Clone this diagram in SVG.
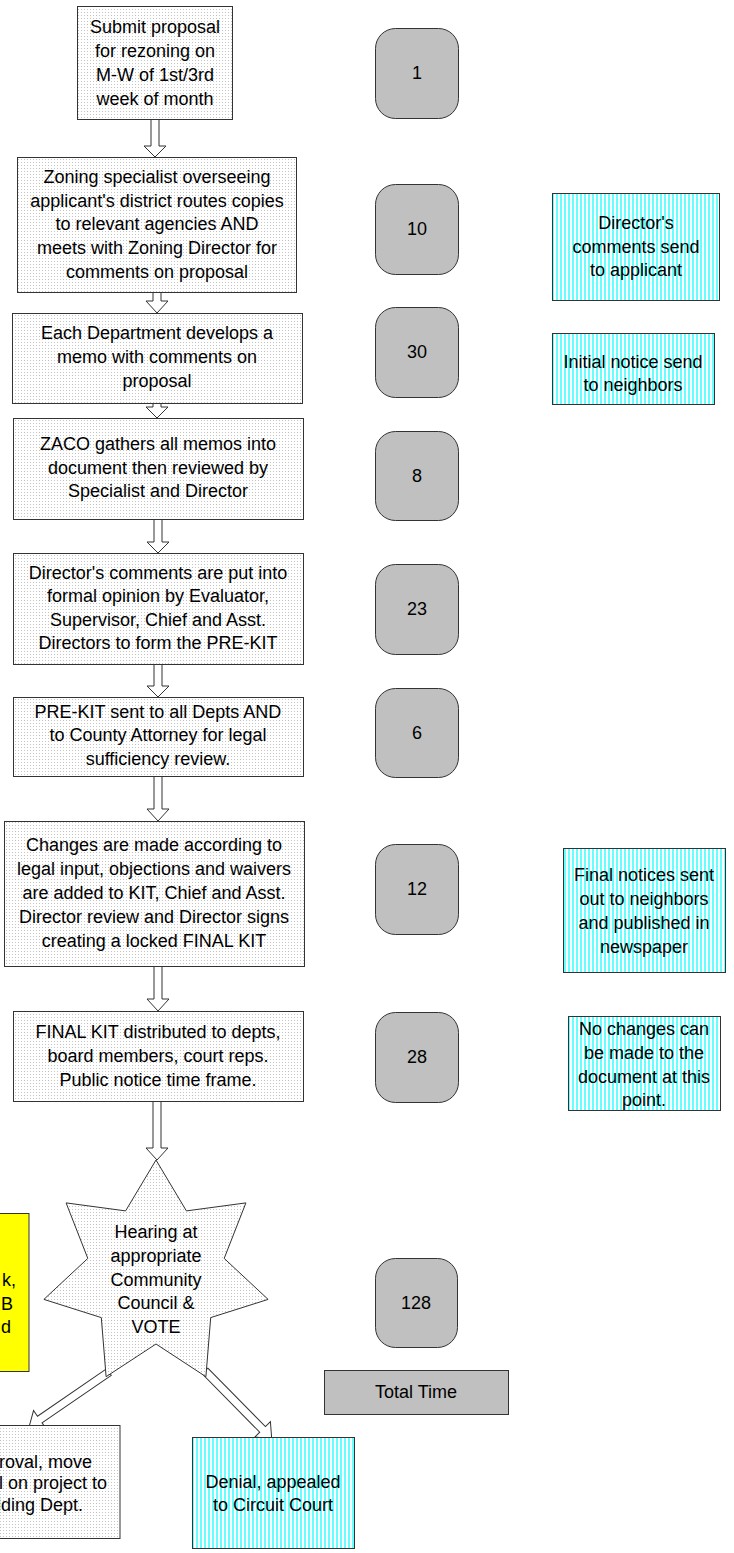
<svg xmlns="http://www.w3.org/2000/svg" width="734" height="1553" viewBox="0 0 734 1553">
<defs>
<pattern id="dots" width="3" height="3" patternUnits="userSpaceOnUse">
<rect width="3" height="3" fill="#ffffff"/>
<rect width="1" height="1" fill="#c4c4c4"/>
</pattern>
<pattern id="stripes" width="4" height="4" patternUnits="userSpaceOnUse">
<rect width="4" height="4" fill="#ffffff"/>
<rect width="2" height="4" fill="#66ffff"/>
</pattern>
</defs>
<style>
text{font-family:"Liberation Sans",Arial,sans-serif;font-size:18px;fill:#000;text-anchor:middle}
.box{fill:url(#dots);stroke:#333;stroke-width:1}
.cyan{fill:url(#stripes);stroke:#333;stroke-width:1}
.num{fill:#c0c0c0;stroke:#333;stroke-width:1}
.yel{fill:#ffff00;stroke:#333;stroke-width:1}
.arr{fill:#ffffff;stroke:#333;stroke-width:1;stroke-linejoin:miter}
.end{text-anchor:end}
</style>
<g id="connectors">
<path class="arr" d="M151,119 L159,119 L159,146 L166,146 L155,157 L144,146 L151,146 Z"/>
<path class="arr" d="M153,292 L161,292 L161,301 L168,301 L157,313 L146,301 L153,301 Z"/>
<path class="arr" d="M153,403 L161,403 L161,407 L168,407 L157,418 L146,407 L153,407 Z"/>
<path class="arr" d="M154,519 L162,519 L162,542 L169,542 L158,553 L147,542 L154,542 Z"/>
<path class="arr" d="M154,664 L162,664 L162,686 L169,686 L158,697 L147,686 L154,686 Z"/>
<path class="arr" d="M154,776 L162,776 L162,809 L169,809 L158,821 L147,809 L154,809 Z"/>
<path class="arr" d="M154,966 L162,966 L162,999 L169,999 L158,1011 L147,999 L154,999 Z"/>
<path class="arr" d="M153,1101 L161,1101 L161,1148 L168,1148 L157,1160 L146,1148 L153,1148 Z"/>
<path class="arr" transform="translate(109,1372) rotate(145.5)" d="M0,-4 L84,-4 L84,-11 L97,0 L84,11 L84,4 L0,4 Z"/>
<path class="arr" transform="translate(205,1371) rotate(45.4)" d="M0,-4 L82,-4 L82,-11 L95,0 L82,11 L82,4 L0,4 Z"/>
</g>
<g id="n1"><rect class="box" x="77.5" y="6.5" width="155" height="113"/>
<text x="155" y="33">Submit proposal</text><text x="155" y="57">for rezoning on</text><text x="155" y="81">M-W of 1st/3rd</text><text x="155" y="105">week of month</text></g>
<g id="n2"><rect class="box" x="17.5" y="157.5" width="279" height="135"/>
<text x="157" y="183">Zoning specialist overseeing</text><text x="157" y="207">applicant's district routes copies</text><text x="157" y="230">to relevant agencies AND</text><text x="157" y="254">meets with Zoning Director for</text><text x="157" y="278">comments on proposal</text></g>
<g id="n3"><rect class="box" x="12.5" y="313.5" width="290" height="90"/>
<text x="157" y="339">Each Department develops a</text><text x="157" y="363">memo with comments on</text><text x="157" y="387">proposal</text></g>
<g id="n4"><rect class="box" x="13.5" y="418.5" width="290" height="101"/>
<text x="158" y="450">ZACO gathers all memos into</text><text x="158" y="474">document then reviewed by</text><text x="158" y="497">Specialist and Director</text></g>
<g id="n5"><rect class="box" x="13.5" y="553.5" width="290" height="111"/>
<text x="158" y="579">Director's comments are put into</text><text x="158" y="602">formal opinion by Evaluator,</text><text x="158" y="626">Supervisor, Chief and Asst.</text><text x="158" y="649">Directors to form the PRE-KIT</text></g>
<g id="n6"><rect class="box" x="13.5" y="697.5" width="290" height="79"/>
<text x="158" y="718">PRE-KIT sent to all Depts AND</text><text x="158" y="741">to County Attorney for legal</text><text x="158" y="765">sufficiency review.</text></g>
<g id="n7"><rect class="box" x="4.5" y="821.5" width="300" height="145"/>
<text x="154" y="851">Changes are made according to</text><text x="154" y="875">legal input, objections and waivers</text><text x="154" y="899">are added to KIT, Chief and Asst.</text><text x="154" y="923">Director review and Director signs</text><text x="154" y="947">creating a locked FINAL KIT</text></g>
<g id="n8"><rect class="box" x="13.5" y="1011.5" width="290" height="90"/>
<text x="158" y="1038">FINAL KIT distributed to depts,</text><text x="158" y="1062">board members, court reps.</text><text x="158" y="1086">Public notice time frame.</text></g>
<g id="n9"><polygon class="box" points="156,1160 186.4,1210.9 245.9,1202.9 224.2,1258.4 268.1,1299.4 210.7,1317.6 205.9,1376.7 156,1344 106.1,1376.7 101.3,1317.6 43.9,1299.4 87.8,1258.4 66.1,1202.9 125.6,1210.9"/>
<text x="156" y="1238">Hearing at</text><text x="156" y="1262">appropriate</text><text x="156" y="1286">Community</text><text x="156" y="1309">Council &amp;</text><text x="156" y="1333">VOTE</text></g>
<g id="n10"><rect class="yel" x="-2" y="1213.5" width="31" height="158"/>
<text class="end" x="16" y="1286">k,</text><text class="end" x="13" y="1310">B</text><text class="end" x="11" y="1333">d</text></g>
<g id="n11"><rect class="box" x="-2" y="1425.5" width="122" height="113"/>
<text class="end" x="92" y="1468">roval, move</text><text class="end" x="107" y="1489">l on project to</text><text class="end" x="83" y="1511">lding Dept.</text></g>
<g id="n12"><rect class="cyan" x="192.5" y="1437.5" width="162" height="111"/>
<text x="273" y="1488">Denial, appealed</text><text x="273" y="1511">to Circuit Court</text></g>
<g id="t1"><rect class="num" x="375.5" y="28.5" width="83" height="90" rx="20"/><text x="417" y="79">1</text></g>
<g id="t2"><rect class="num" x="375.5" y="184.5" width="83" height="90" rx="20"/><text x="417" y="235">10</text></g>
<g id="t3"><rect class="num" x="375.5" y="307.5" width="83" height="90" rx="20"/><text x="417" y="358">30</text></g>
<g id="t4"><rect class="num" x="375.5" y="431.5" width="83" height="89" rx="20"/><text x="417" y="482">8</text></g>
<g id="t5"><rect class="num" x="375.5" y="564.5" width="83" height="90" rx="20"/><text x="417" y="615">23</text></g>
<g id="t6"><rect class="num" x="375.5" y="688.5" width="83" height="89" rx="20"/><text x="417" y="739">6</text></g>
<g id="t7"><rect class="num" x="375.5" y="844.5" width="83" height="90" rx="20"/><text x="417" y="895">12</text></g>
<g id="t8"><rect class="num" x="375.5" y="1012.5" width="83" height="90" rx="20"/><text x="417" y="1063">28</text></g>
<g id="t9"><rect class="num" x="375.5" y="1258.5" width="82" height="89" rx="20"/><text x="416" y="1309">128</text></g>
<g id="total"><rect class="num" x="324.5" y="1370.5" width="184" height="44"/><text x="416" y="1398">Total Time</text></g>
<g id="c1"><rect class="cyan" x="552.5" y="193.5" width="167" height="107"/>
<text x="636" y="229">Director's</text><text x="636" y="253">comments send</text><text x="636" y="276">to applicant</text></g>
<g id="c2"><rect class="cyan" x="552.5" y="333.5" width="162" height="71"/>
<text x="633" y="368">Initial notice send</text><text x="633" y="391">to neighbors</text></g>
<g id="c3"><rect class="cyan" x="563.5" y="848.5" width="162" height="124"/>
<text x="644" y="881">Final notices sent</text><text x="644" y="905">out to neighbors</text><text x="644" y="929">and published in</text><text x="644" y="953">newspaper</text></g>
<g id="c4"><rect class="cyan" x="568.5" y="1016.5" width="152" height="94"/>
<text x="644" y="1035">No changes can</text><text x="644" y="1059">be made to the</text><text x="644" y="1083">document at this</text><text x="644" y="1106">point.</text></g>
</svg>
